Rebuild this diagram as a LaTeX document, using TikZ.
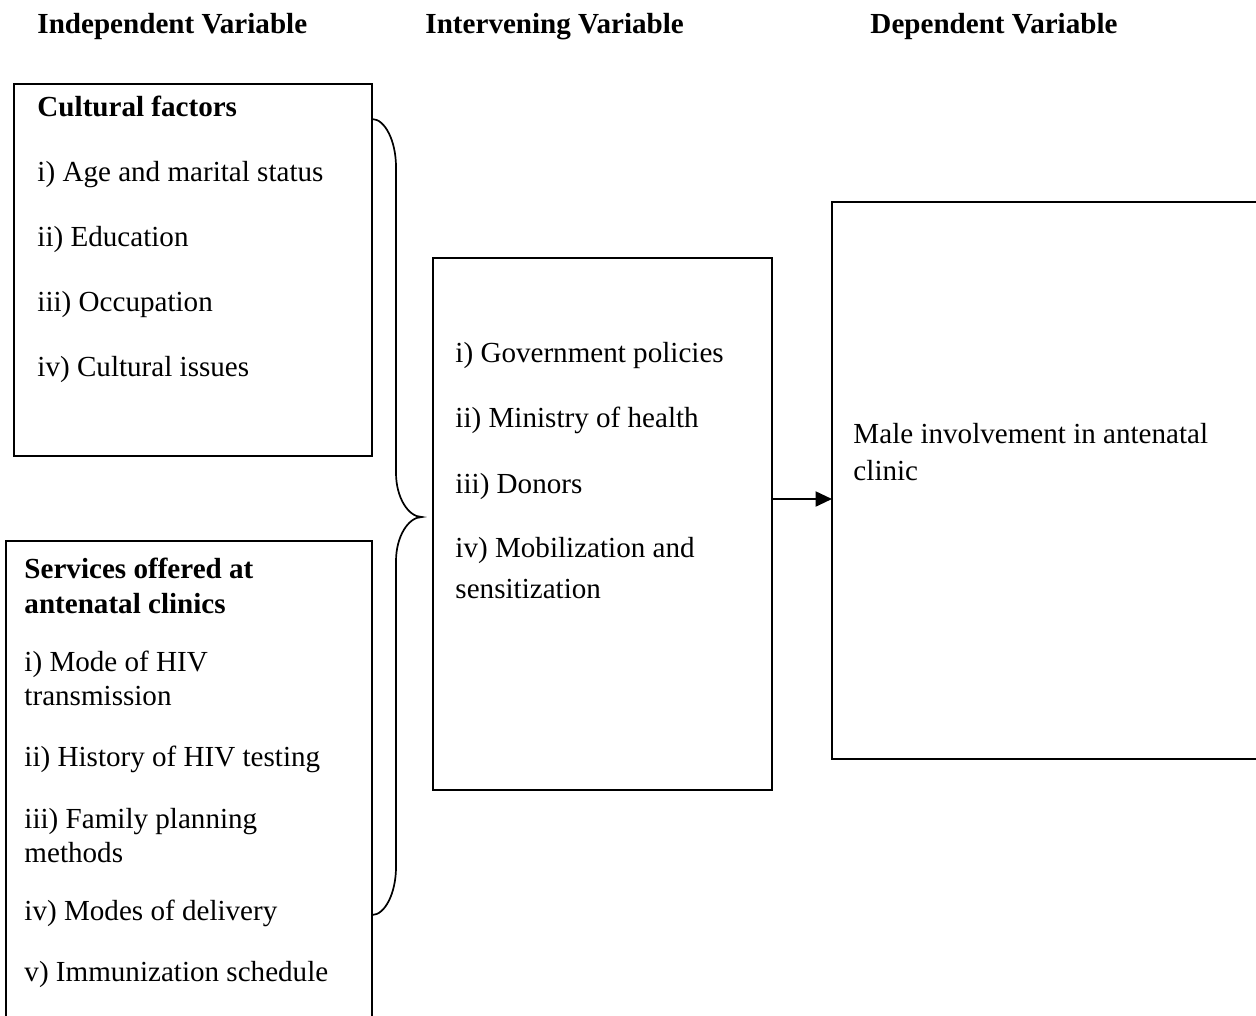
\documentclass[tikz,border=0pt]{standalone}
\usepackage{fontspec}
\setmainfont{Liberation Serif}
\usetikzlibrary{arrows.meta}
\newcommand{\px}{0.4125pt}
\begin{document}
\begin{tikzpicture}[
		x=0.4125pt, y=-0.4125pt,
		box/.style = {draw, line width=0.9pt, inner sep=0pt, outer sep=0pt},
		lbl/.style = {anchor=base west, inner sep=0pt, font=\fontsize{12}{14}\selectfont},
		hd/.style  = {lbl, font=\fontsize{12}{14}\selectfont\bfseries},
		arr/.style = {line width=0.9pt, -{Triangle[length=6.8pt, width=6.2pt]}}
		]
		\useasboundingbox (0,0) rectangle (1256,1015);
		\clip (0,0) rectangle (1256,1015);
		
		% Column headings
		\node[hd] (hind) at (37, 33) {Independent Variable};
		\node[hd] (hint) at (425, 33) {Intervening Variable};
		\node[hd] (hdep) at (870, 33) {Dependent Variable};
		
		% Boxes
		\node[box, minimum width=358*\px, minimum height=372*\px] (cult) at (193, 270) {};
		\node[box, minimum width=366*\px, minimum height=504*\px] (serv) at (189, 793) {};
		\node[box, minimum width=339*\px, minimum height=532*\px] (interv) at (602.5, 524) {};
		\node[box, minimum width=453*\px, minimum height=557*\px] (dep) at (1058.5, 480.5) {};
		
		% Cultural factors
		\node[hd]  (c0) at (37, 116) {Cultural factors};
		\node[lbl] (c1) at (37, 181) {i) Age and marital status};
		\node[lbl] (c2) at (37, 246) {ii) Education};
		\node[lbl] (c3) at (37, 311) {iii) Occupation};
		\node[lbl] (c4) at (37, 376) {iv) Cultural issues};
		
		% Services offered
		\node[hd]  (s0a) at (24, 578) {Services offered at};
		\node[hd]  (s0b) at (24, 613) {antenatal clinics};
		\node[lbl] (s1a) at (24, 671) {i) Mode of HIV};
		\node[lbl] (s1b) at (24, 705) {transmission};
		\node[lbl] (s2)  at (24, 766) {ii) History of HIV testing};
		\node[lbl] (s3a) at (24, 828) {iii) Family planning};
		\node[lbl] (s3b) at (24, 862) {methods};
		\node[lbl] (s4)  at (24, 920) {iv) Modes of delivery};
		\node[lbl] (s5)  at (24, 981) {v) Immunization schedule};
		
		% Intervening
		\node[lbl] (i1)  at (455, 362) {i) Government policies};
		\node[lbl] (i2)  at (455, 427) {ii) Ministry of health};
		\node[lbl] (i3)  at (455, 493) {iii) Donors};
		\node[lbl] (i4a) at (455, 557) {iv) Mobilization and};
		\node[lbl] (i4b) at (455, 598) {sensitization};
		
		% Dependent
		\node[lbl] (d1a) at (853, 443) {Male involvement in antenatal};
		\node[lbl] (d1b) at (853, 480) {clinic};
		
		% Brace joining the two left boxes
		\coordinate (bt) at (cult.east |- 0,119);
		\coordinate (bb) at (serv.east |- 0,915);
		\draw[line width=0.7pt] (bt) .. controls (385,119) and (396,141) .. (396,167)
			-- (396,473) .. controls (396,497) and (408,517) .. (422,517)
			.. controls (408,517) and (396,537) .. (396,561)
			-- (396,867) .. controls (396,893) and (385,915) .. (bb);
		
		% Arrow
		\coordinate (a0) at (interv.east |- 0,499);
		\draw[arr] (a0) -- (a0 -| dep.west);
	\end{tikzpicture}
\end{document}
